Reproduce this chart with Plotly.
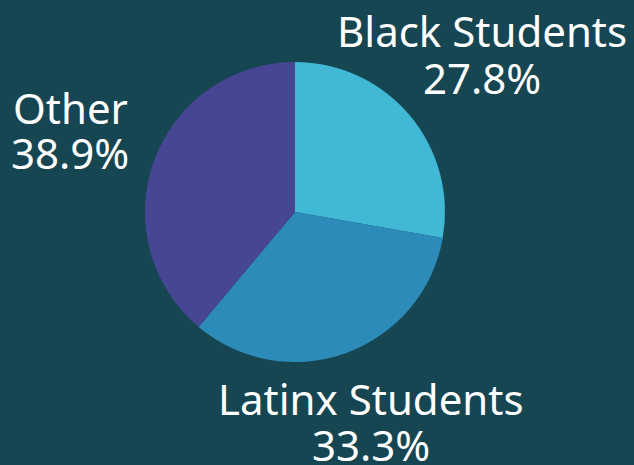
import plotly.graph_objects as go

labels = ["Black Students", "Latinx Students", "Other"]
values = [5, 6, 7]
colors = ["#41b8d5", "#2d8bba", "#474694"]

# label placement (paper coords): [x, y of name, y of percent]
label_pos = {
    "Black Students": (482 / 634, 1 - 30 / 465, 1 - 77 / 465),
    "Latinx Students": (371 / 634, 1 - 398 / 465, 1 - 444 / 465),
    "Other": (70 / 634, 1 - 107 / 465, 1 - 152 / 465),
}

fig = go.Figure()

fig.add_trace(
    go.Pie(
        labels=labels,
        values=values,
        sort=False,
        direction="clockwise",
        rotation=0,
        marker=dict(colors=colors, line=dict(width=0)),
        textinfo="none",
        domain=dict(x=[0.2287, 0.7019], y=[0.2215, 0.8667]),
        showlegend=False,
        hoverinfo="label+percent",
    )
)

total = sum(values)
font = dict(family="Noto Sans", size=42, color="white")
for lab, val in zip(labels, values):
    x, y1, y2 = label_pos[lab]
    fig.add_annotation(x=x, y=y1, xref="paper", yref="paper", text=lab,
                       showarrow=False, font=font, xanchor="center", yanchor="middle",
                       height=40, valign="middle", borderpad=0)
    fig.add_annotation(x=x, y=y2, xref="paper", yref="paper",
                       text=f"{val / total * 100:.1f}%",
                       showarrow=False, font=font, xanchor="center", yanchor="middle",
                       height=40, valign="middle", borderpad=0)

fig.update_layout(
    width=634,
    height=465,
    margin=dict(l=0, r=0, t=0, b=0),
    paper_bgcolor="#174653",
    plot_bgcolor="#174653",
)

fig.write_html("out.html", config={"displayModeBar": False},
               post_script="document.body.style.margin='0';")
